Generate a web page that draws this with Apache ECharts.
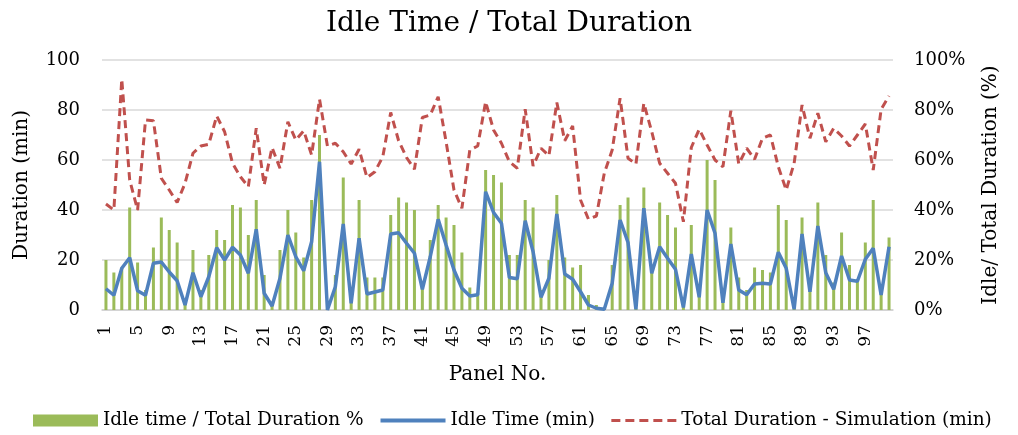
<!DOCTYPE html>
<html><head><meta charset="utf-8">
<script src="https://cdn.jsdelivr.net/npm/echarts@6/dist/echarts.min.js"></script>
<style>html,body{margin:0;padding:0;background:#fff}#c{width:1018px;height:435px}</style>
</head><body><div id="c"></div>
<script>
const categories = Array.from({length:100},(_,i)=>String(i+1));
const idlePct = [20,15,17,41,19,8,25,37,32,27,4,24,8,22,32,28,42,41,30,44,14,2.5,24,40,31,21,44,70,0.5,14,53,4.6,44,13,13,13,38,45,43,40,10,28,42,37,34,23,9,7,56,54,51,22,22,44,41,8,20,46,21,17,18,6,2,0.5,18,42,45,0.5,49,15,43,38,33,2.8,34,7,60,52,5,33,13,8,17,16,15,42,36,0.5,37,10.6,43,22,11,31,18,12,27,44,7.5,29];
const idleTime = [8.5,5.9,16.7,20.9,7.7,5.9,18.7,19.2,15.2,11.7,2,14.9,5.3,13.3,24.9,20,25.1,22,14.7,32.3,6.7,1.6,12.7,30,21.3,15.7,27.3,59.3,0,9.3,34.4,2.7,28.7,6.4,7.2,8,30.4,30.9,26.7,22.7,8.3,21.3,36.3,26,16,8.7,5.6,6.1,47.3,39,34.7,13,12.5,35.7,23.3,5.1,12.7,38.4,14.4,12.3,7.3,2,0.7,0.3,10.7,36,27,0.3,40.7,14.7,25.3,20.7,16.3,1,22.4,5.1,40,30.7,2.9,26.4,8,6.1,10.4,10.7,10.4,23.1,16.7,0.3,30.4,7.3,33.6,14.9,8.3,21.6,12,11.5,20.3,24.7,6,25.3];
const totalDur = [42.4,40,92.3,52,40,76,75.7,52.7,48,43,50.7,62.7,65.6,66.3,77.6,71.3,58.7,53.3,49.3,72.7,50,65,56.7,75.3,68,71.7,62,84.3,65.6,66.7,63.3,58.4,64.3,53,55.3,61.3,79,67.7,61,56.3,77,78,85.3,67.3,48,40.7,64,65.6,83.3,72,66.7,59.3,56.7,80.3,57.6,64.7,61.7,83,67.7,73.6,44,36.3,37.6,54.7,64,84.7,60.7,58.4,82.7,71.3,58.7,54.7,50.7,35.3,65,72.3,66,60,57.3,79.7,58.4,64.7,60.3,68.7,70,57.3,48,58.7,82,68.7,78.7,67.3,72.7,69.6,65.6,70,74.4,56,80.3,85.6];
const leftTicks = [0,20,40,60,80,100];
const rightTicks = ['0%','20%','40%','60%','80%','100%'];

const font = 'DejaVu Serif';
const chart = echarts.init(document.getElementById('c'));
chart.setOption({
  animation:false,
  textStyle:{fontFamily:font,color:'#000'},
  title:{text:'Idle Time / Total Duration',left:'center',top:5,textStyle:{fontFamily:font,fontSize:28,fontWeight:'normal',color:'#000'}},
  legend:{bottom:0,left:28,itemGap:15,itemWidth:65,itemHeight:12,
    textStyle:{fontFamily:font,fontSize:18.5,color:'#000'},
    data:[
      {name:'Idle time / Total Duration %',icon:'rect'},
      {name:'Idle Time (min)',itemStyle:{opacity:0},lineStyle:{width:4}},
      {name:'Total Duration - Simulation (min)',itemStyle:{opacity:0},lineStyle:{width:3,type:[9,5]}}
    ]},
  grid:{left:102,right:125,top:60,bottom:125,containLabel:false},
  xAxis:{type:'category',data:categories,boundaryGap:true,
    name:'Panel No.',nameLocation:'middle',nameGap:55,nameTextStyle:{fontFamily:font,fontSize:20,color:'#000'},
    axisLine:{lineStyle:{color:'#d0d0d0',width:1.5}},axisTick:{show:false},
    axisLabel:{interval:3,rotate:90,fontFamily:font,fontSize:17,color:'#000',margin:15}},
  yAxis:[
    {type:'value',min:0,max:100,interval:20,
      name:'Duration (min)',nameLocation:'middle',nameGap:70,nameRotate:90,nameTextStyle:{fontFamily:font,fontSize:20,color:'#000'},
      axisLine:{show:false},axisTick:{show:false},
      axisLabel:{fontFamily:font,fontSize:18,color:'#000',margin:22,formatter:v=>String(v)},
      splitLine:{lineStyle:{color:'#d9d9d9',width:1.5}}},
    {type:'value',min:0,max:100,interval:20,position:'right',
      name:'Idle/ Total Duration (%)',nameLocation:'middle',nameGap:88,nameRotate:90,nameTextStyle:{fontFamily:font,fontSize:20,color:'#000'},
      axisLine:{show:false},axisTick:{show:false},
      axisLabel:{fontFamily:font,fontSize:18,color:'#000',margin:21,formatter:v=>rightTicks[leftTicks.indexOf(v)]},
      splitLine:{show:false}}
  ],
  series:[
    {name:'Idle time / Total Duration %',type:'bar',yAxisIndex:1,data:idlePct,barWidth:3,itemStyle:{color:'#9BBB59'}},
    {name:'Idle Time (min)',type:'line',yAxisIndex:0,data:idleTime,symbol:'none',lineStyle:{color:'#4F81BD',width:3.5},itemStyle:{color:'#4F81BD'}},
    {name:'Total Duration - Simulation (min)',type:'line',yAxisIndex:0,data:totalDur,symbol:'none',lineStyle:{color:'#C0504D',width:3,type:[8,5]},itemStyle:{color:'#C0504D'}}
  ]
});
</script></body></html>
